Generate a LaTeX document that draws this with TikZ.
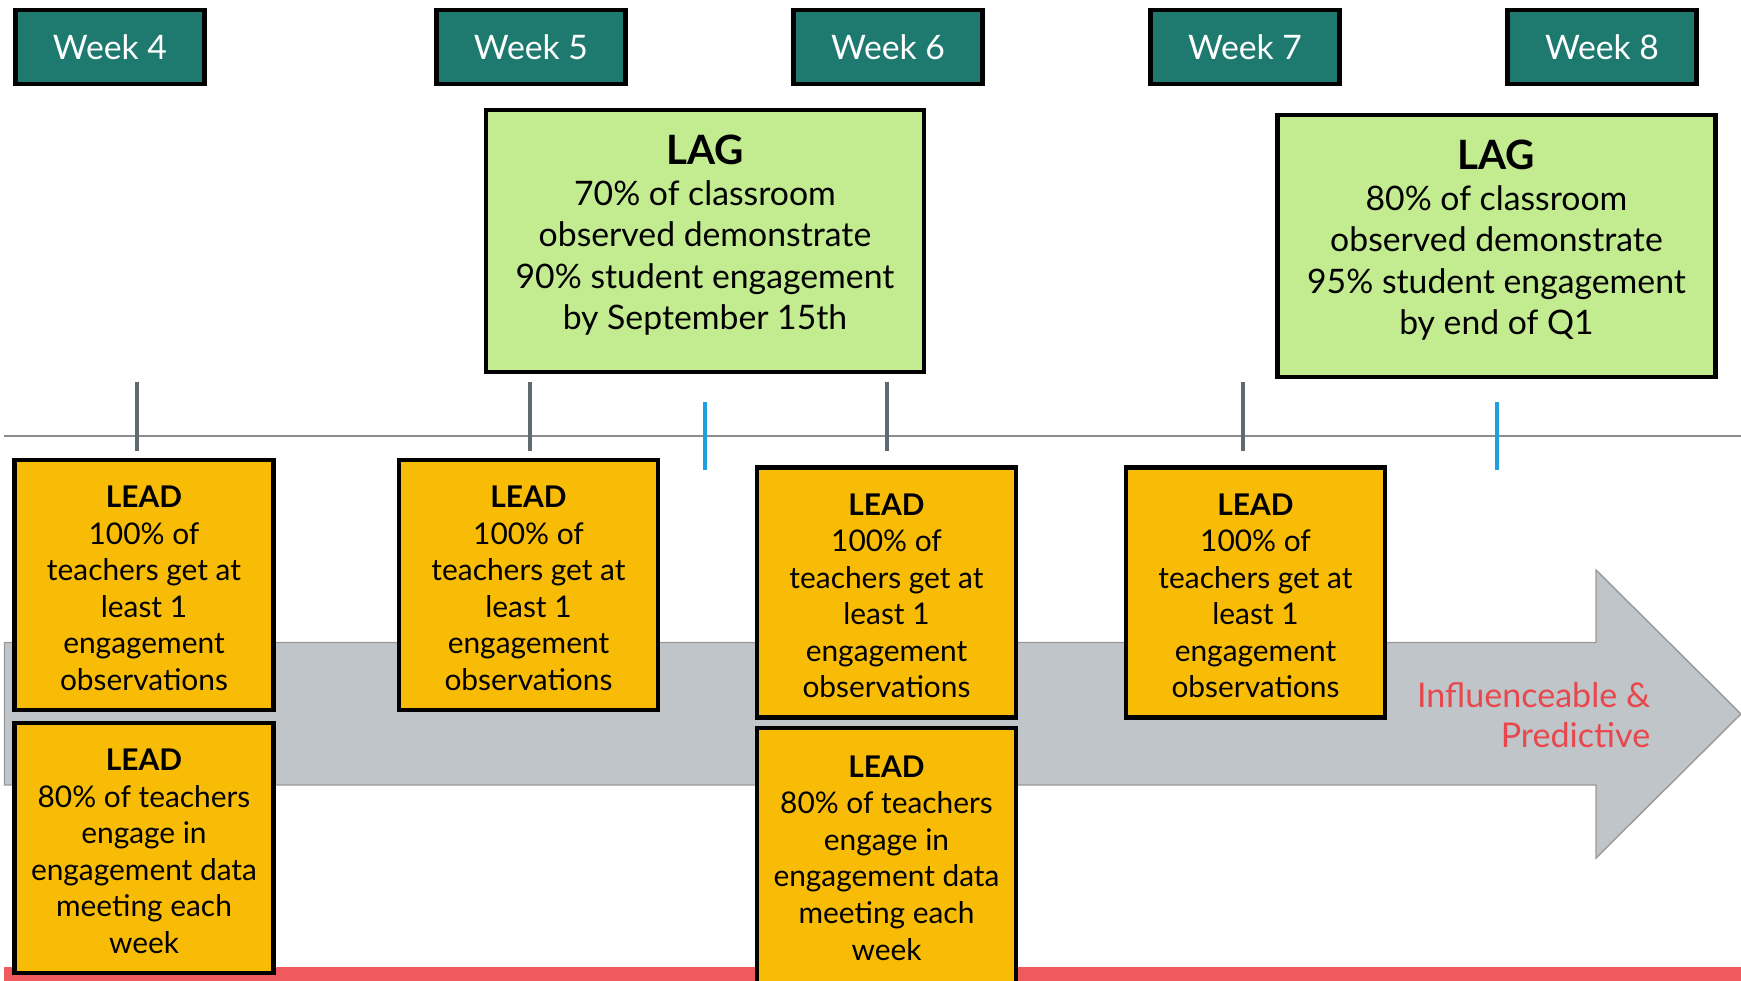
\documentclass[tikz,border=0pt]{standalone}
\usepackage{fontspec}
\setmainfont{Lato}
\definecolor{weekteal}{HTML}{1E7A6E}
\definecolor{laggreen}{HTML}{C2EC8F}
\definecolor{leadyellow}{HTML}{F9BC06}
\definecolor{bandgray}{HTML}{BFC5C8}
\definecolor{tickgray}{HTML}{5F6B70}
\definecolor{tickblue}{HTML}{1BA1E2}
\definecolor{barred}{HTML}{EF5A5F}
\definecolor{textred}{HTML}{E8484D}
\begin{document}
\begin{tikzpicture}[x=0.1mm,y=-0.1mm,
		weekbox/.style={draw=black,line width=1.2pt,fill=weekteal,text=white,inner sep=0pt,minimum width=18.9mm,minimum height=7.4mm,font=\fontsize{9.6}{12}\selectfont},
		lagbox/.style={draw=black,line width=1.4pt,fill=laggreen,inner sep=0pt,align=center,minimum width=43.8mm,minimum height=26.2mm,font=\fontsize{9.6}{11.7}\selectfont},
		leadbox/.style={draw=black,line width=1.2pt,fill=leadyellow,inner sep=0pt,align=center,minimum width=25.9mm,minimum height=25.0mm,font=\fontsize{8.5}{10.4}\selectfont},
		graytick/.style={draw=tickgray,line width=1pt},
		bluetick/.style={draw=tickblue,line width=0.9pt}]
		\useasboundingbox (0,0) rectangle (1741,980);

		\filldraw[fill=bandgray,draw=gray!80,line width=0.4pt] (4.5,642.5) -- (1596,642.5) -- (1596,570) -- (1741,714) -- (1596,858) -- (1596,785) -- (4.5,785) -- cycle;

		\coordinate (tlstart) at (4.5,436);
		\coordinate (tlend) at (1741,436);
		\draw[gray!90,line width=0.6pt] (tlstart) -- (tlend);

		\draw[graytick] (137,382) -- (137,451);
		\draw[graytick] (530,382) -- (530,451);
		\draw[graytick] (887,382) -- (887,451);
		\draw[graytick] (1243,382) -- (1243,451);
		\draw[bluetick] (705,402) -- (705,470);
		\draw[bluetick] (1497,402) -- (1497,470);

		\fill[barred] (4.5,967) rectangle (1741,985);

		\node[weekbox] (w4) at (110,47) {Week 4};
		\node[weekbox] (w5) at (531,47) {Week 5};
		\node[weekbox] (w6) at (888,47) {Week 6};
		\node[weekbox] (w7) at (1245,47) {Week 7};
		\node[weekbox] (w8) at (1602,47) {Week 8};

		\node[lagbox] (lag5) at (705,241) {{\fontsize{11.5}{13}\selectfont\bfseries LAG}\\70\% of classroom\\observed demonstrate\\90\% student engagement\\by September 15th\rule[-5pt]{0pt}{5pt}};
		\node[lagbox] (lag8) at (1496.5,246) {{\fontsize{11.5}{13}\selectfont\bfseries LAG}\\80\% of classroom\\observed demonstrate\\95\% student engagement\\by end of Q1\rule[-5pt]{0pt}{5pt}};

		\node[leadbox] (lead4a) at (144,585) {\rule{0pt}{8pt}\textbf{LEAD}\\100\% of\\teachers get at\\least 1\\engagement\\observations};
		\node[leadbox] (lead4b) at (144,848) {\rule{0pt}{8pt}\textbf{LEAD}\\80\% of teachers\\engage in\\engagement data\\meeting each\\week};
		\node[leadbox] (lead5) at (528.5,585) {\rule{0pt}{8pt}\textbf{LEAD}\\100\% of\\teachers get at\\least 1\\engagement\\observations};
		\node[leadbox] (lead6a) at (886.5,592.5) {\rule{0pt}{8pt}\textbf{LEAD}\\100\% of\\teachers get at\\least 1\\engagement\\observations};
		\node[leadbox,minimum height=26.0mm] (lead6b) at (886.5,858) {\textbf{LEAD}\\80\% of teachers\\engage in\\engagement data\\meeting each\\week};
		\node[leadbox] (lead7) at (1255.5,592.5) {\rule{0pt}{8pt}\textbf{LEAD}\\100\% of\\teachers get at\\least 1\\engagement\\observations};

		\node[text=textred,align=right,anchor=east,inner sep=0pt,font=\fontsize{9.7}{11.2}\selectfont] (infl) at (1651,715) {Influenceable \&\\Predictive};
	\end{tikzpicture}
\end{document}
